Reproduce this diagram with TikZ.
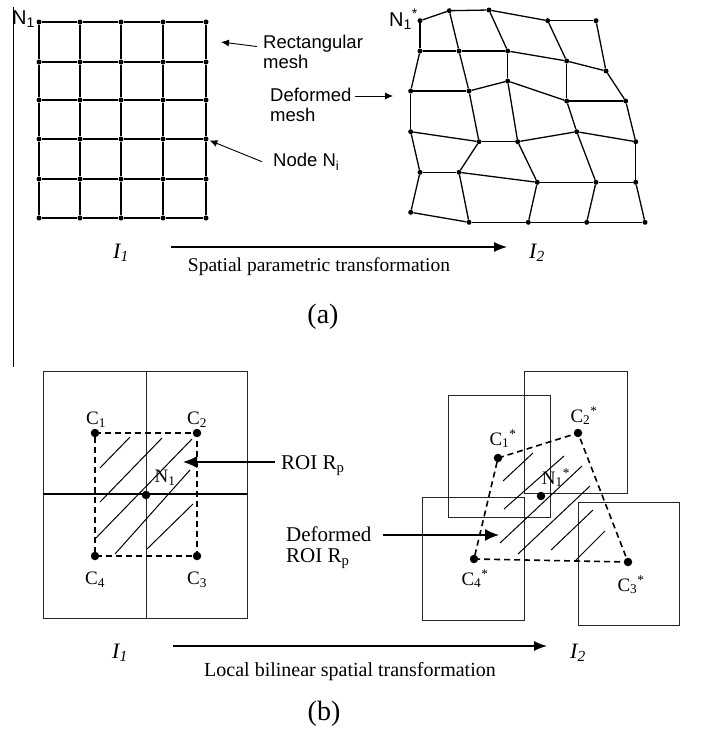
\documentclass[tikz,border=0pt]{standalone}
\usepackage{fontspec}
\setmainfont{Liberation Serif}
\setsansfont{Liberation Sans}
\usetikzlibrary{arrows.meta,positioning}

\newcommand{\starlbl}[3]{#1\textsubscript{#2}\textsuperscript{#3}}

\tikzset{
  meshdot/.style={circle, fill, inner sep=0pt, minimum size=5pt},
  ctrldot/.style={circle, fill, inner sep=0pt, minimum size=8.5pt},
  gridedge/.style={line width=1.8pt},
  meshedge/.style={line width=1.3pt},
  window/.style={draw=black!85, line width=0.9pt},
  roi/.style={dash pattern=on 6pt off 4pt, line width=1.6pt},
  hatch/.style={line width=1pt},
  sanstext/.style={font=\sffamily\fontsize{18.5}{20}\selectfont, inner sep=0pt},
  serif/.style={font=\fontsize{21}{22}\selectfont, inner sep=0pt},
  ctext/.style={font=\fontsize{19}{20}\selectfont, inner sep=0pt},
  imgtext/.style={font=\itshape\fontsize{22}{22}\selectfont, inner sep=0pt},
  pointer/.style={-{Latex[length=8pt,width=7pt]}, line width=0.9pt},
  roiarrow/.style={-{Latex[length=14pt,width=12pt]}, line width=1.5pt},
  bigarrow/.style={-{Latex[length=13pt,width=10pt]}, line width=1.3pt},
}

\begin{document}
\begin{tikzpicture}[x=1pt,y=-1pt]
  \useasboundingbox (0,0) rectangle (702,731);

  \draw[line width=1pt] (13,7) -- (13,367);

  % (a) rectangular mesh on I1
  \foreach \x [count=\c] in {39,80,121,163,206}
    \foreach \y [count=\r] in {22,62,100,139,179,218}
      \node[meshdot] (r-\r-\c) at (\x,\y) {};
  \foreach \r in {1,...,6}
    \foreach \c in {1,...,4}{
      \pgfmathtruncatemacro{\nc}{\c+1}
      \draw[gridedge] (r-\r-\c) -- (r-\r-\nc);
    }
  \foreach \c in {1,...,5}
    \foreach \r in {1,...,5}{
      \pgfmathtruncatemacro{\nr}{\r+1}
      \draw[gridedge] (r-\r-\c) -- (r-\nr-\c);
    }

  % deformed mesh on I2
  \foreach \r/\c/\x/\y in {
      1/1/420/20.7, 1/2/449.3/10.7, 1/3/489/10, 1/4/547.7/20.7, 1/5/596/20.7,
      2/1/420/51, 2/2/459/51, 2/3/507.7/51, 2/4/566.7/61, 2/5/606/71,
      3/1/410.7/91, 3/2/469/91, 3/3/507.7/81, 3/4/566.7/101, 3/5/625.7/101,
      4/1/410.7/131.7, 4/2/479/141.7, 4/3/517.7/141.7, 4/4/576.7/131.7, 4/5/635.7/141.7,
      5/1/420/172.3, 5/2/459/172.3, 5/3/537.3/182.3, 5/4/596/182.3, 5/5/635.7/182.3,
      6/1/410.7/212.3, 6/2/469/222.3, 6/3/528.3/222.3, 6/4/586.7/222.3, 6/5/645/222.3}
    \node[meshdot] (d-\r-\c) at (\x,\y) {};
  \foreach \r in {1,...,6}
    \foreach \c in {1,...,4}{
      \pgfmathtruncatemacro{\nc}{\c+1}
      \draw[meshedge] (d-\r-\c) -- (d-\r-\nc);
    }
  \foreach \c in {1,...,5}
    \foreach \r in {1,...,5}{
      \pgfmathtruncatemacro{\nr}{\r+1}
      \draw[meshedge] (d-\r-\c) -- (d-\nr-\c);
    }

  \node[sanstext, font=\sffamily\fontsize{20}{20}\selectfont, anchor=east] (n1) at (35,19) {N\textsubscript{1}};
  \node[sanstext, font=\sffamily\fontsize{20}{20}\selectfont, anchor=east] (n1s) at (418,19) {\starlbl{N}{1}{*}};

  \node[sanstext, anchor=base west] (recta) at (263,48.3) {Rectangular};
  \node[sanstext, anchor=base west] (rectb) at (263,68.3) {mesh};
  \coordinate (rtip) at (221,42);
  \draw[pointer] ([xshift=-6pt,yshift=-3pt]recta.west) -- (rtip);

  \node[sanstext, anchor=base west] (defa) at (270,101) {Deformed};
  \node[sanstext, anchor=base west] (defb) at (270,121.7) {mesh};
  \coordinate (dtip) at (393,96);
  \draw[pointer] ([xshift=3pt]defa.east |- dtip) -- (dtip);

  \node[sanstext, anchor=base west] (nodei) at (273,166.7) {Node N\textsubscript{i}};
  \draw[pointer, shorten >=1pt] ([xshift=-11pt]nodei.west) -- (r-4-5);

  \node[imgtext] (i1a) at (121,253) {I\textsubscript{1}};
  \node[imgtext] (i2a) at (537,253) {I\textsubscript{2}};
  \draw[bigarrow] ([xshift=42pt,yshift=6pt]i1a.east) -- ([xshift=-22pt,yshift=6pt]i2a.west);
  \node[serif, font=\fontsize{19.5}{20}\selectfont] (spt) at (319,267) {Spatial parametric transformation};
  \node[font=\fontsize{28}{28}\selectfont, inner sep=0pt] (capa) at (323,317) {(a)};

  % (b) control points on I1
  \draw[window] (43,371) rectangle (247,618);
  \draw[window] (146,371) -- (146,618);
  \draw[line width=1.6pt] (43,494) -- (247,494);

  \node[ctrldot] (c1) at (95,433) {};
  \node[ctrldot] (c2) at (197,433) {};
  \node[ctrldot] (c3) at (197,556) {};
  \node[ctrldot] (c4) at (95,556) {};
  \node[ctrldot] (cn) at (146,495) {};
  \draw[roi] (c1.center) -- (c2.center) -- (c3.center) -- (c4.center) -- cycle;
  \draw[hatch] (100,468) -- (130,437) (100,502) -- (162,438) (96,538) -- (192,439)
               (115,554) -- (190,470) (147,549) -- (193,504);

  \node[ctext] (lc1) at (96,420) {C\textsubscript{1}};
  \node[ctext] (lc2) at (197,420) {C\textsubscript{2}};
  \node[ctext] (lc3) at (197,580) {C\textsubscript{3}};
  \node[ctext] (lc4) at (95,580) {C\textsubscript{4}};
  \node[ctext] (lcn) at (165,478) {N\textsubscript{1}};

  \node[serif, anchor=base west] (roil) at (281,469.3) {ROI R\textsubscript{p}};
  \coordinate (roitip) at (183,462);
  \draw[roiarrow] ([xshift=-6pt]roil.west |- roitip) -- (roitip);

  \node[serif, anchor=base west] (droia) at (286,541) {Deformed};
  \node[serif, anchor=base west] (droib) at (286,562.7) {ROI R\textsubscript{p}};
  \coordinate (droitip) at (499,535);
  \draw[roiarrow] ([xshift=11pt]droia.east |- droitip) -- (droitip);

  % (b) deformed control points on I2
  \draw[window] (524,371) rectangle (627,493);
  \draw[window] (448,395) rectangle (550,517);
  \draw[window] (422,497) rectangle (524,620);
  \draw[window] (578,502) rectangle (679,625);

  \node[ctrldot] (c1s) at (498,458) {};
  \node[ctrldot] (c2s) at (578,433) {};
  \node[ctrldot] (c3s) at (628,562) {};
  \node[ctrldot] (c4s) at (474,559) {};
  \node[ctrldot] (cns) at (541,496) {};
  \draw[roi] (c1s.center) -- (c2s.center) -- (c3s.center) -- (c4s.center) -- cycle;
  \draw[hatch] (503,481) -- (533,453) (504,509) -- (564,456) (500,543) -- (582,466)
               (518,554) -- (590,486) (551,550) -- (593,510) (576,560) -- (605,531);

  \node[ctext] (lc1s) at (503,439) {\starlbl{C}{1}{*}};
  \node[ctext] (lc2s) at (584,416) {\starlbl{C}{2}{*}};
  \node[ctext] (lc3s) at (631,585) {\starlbl{C}{3}{*}};
  \node[ctext] (lc4s) at (475,579) {\starlbl{C}{4}{*}};
  \node[ctext] (lcns) at (556,478) {\starlbl{N}{1}{*}};

  \node[imgtext] (i1b) at (120,653) {I\textsubscript{1}};
  \node[imgtext] (i2b) at (578,653) {I\textsubscript{2}};
  \draw[bigarrow] ([xshift=45pt,yshift=7pt]i1b.east) -- ([xshift=-23pt,yshift=7pt]i2b.west);
  \node[serif, font=\fontsize{20}{20}\selectfont] (lbt) at (350,672) {Local bilinear spatial transformation};
  \node[font=\fontsize{28}{28}\selectfont, inner sep=0pt] (capb) at (324,714) {(b)};
\end{tikzpicture}
\end{document}
